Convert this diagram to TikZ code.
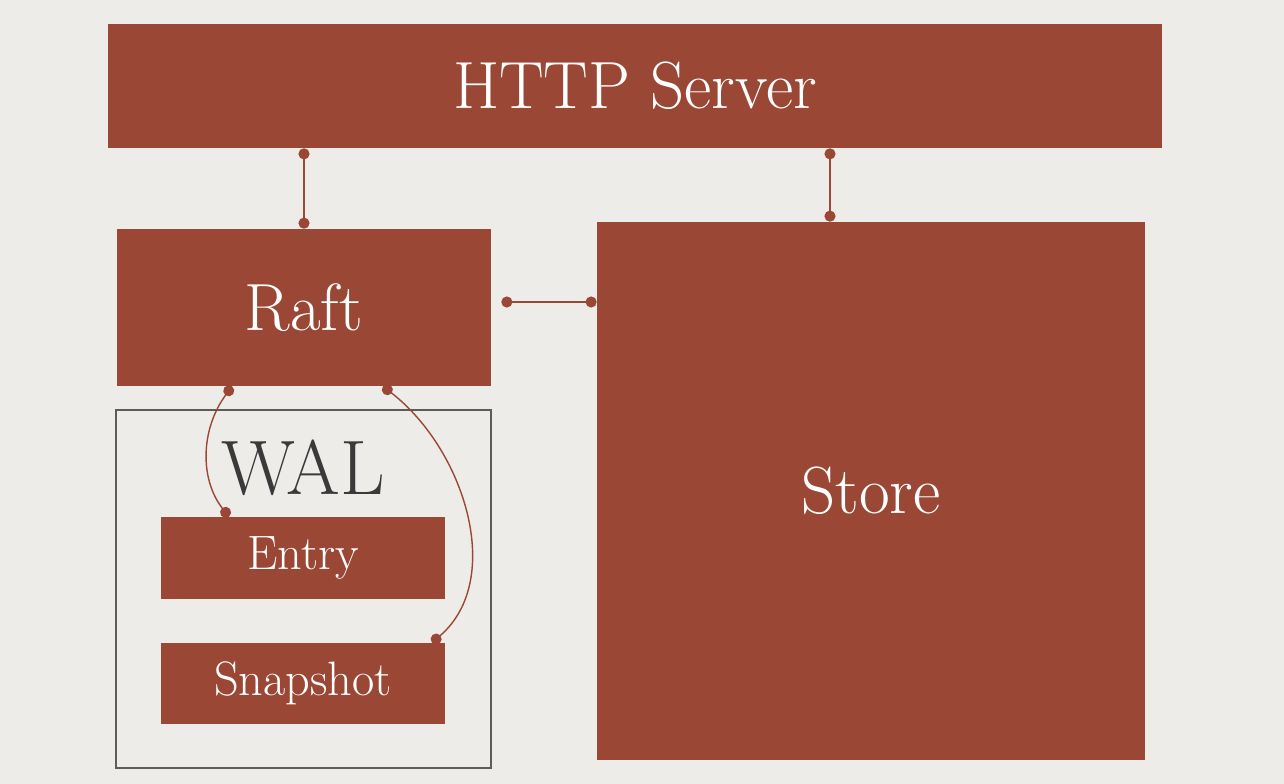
\documentclass[tikz,border=0pt]{standalone}
\usepackage{tikz}
\usetikzlibrary{arrows.meta,positioning,calc}
\definecolor{Brick}{HTML}{9A4835}
\definecolor{Paper}{HTML}{EDECE9}
\definecolor{Frame}{HTML}{5C5C5C}
\definecolor{Slate}{HTML}{3A3A3A}
\tikzset{
 block/.style={fill=Brick,draw=none,text=white,inner sep=0pt},
 bigfont/.style={font=\fontsize{38}{44}\selectfont},
 midfont/.style={font=\fontsize{27.5}{32}\selectfont},
 link/.style={{Circle[length=2.2mm]}-{Circle[length=2.2mm]},draw=Brick,line width=1.3pt},
 curvelink/.style={link,line width=0.8pt}
}
\begin{document}
\begin{tikzpicture}
\fill[Paper] (0,0) rectangle (25.68,-15.68);
\useasboundingbox (0,0) rectangle (25.68,-15.68);
% boxes
\node[block,bigfont,minimum width=21.08cm,minimum height=2.48cm] (http) at (12.70,-1.72) {HTTP Server};
\node[block,bigfont,minimum width=7.48cm,minimum height=3.14cm] (raft) at (6.08,-6.15) {Raft};
\node[block,bigfont,minimum width=10.96cm,minimum height=10.76cm] (store) at (17.42,-9.82) {Store};
\node[draw=Frame,line width=1.7pt,minimum width=7.5cm,minimum height=7.16cm] (wal) at (6.07,-11.78) {};
\node[text=Slate,font=\fontsize{44}{50}\selectfont,anchor=base] (wallabel) at (6.06,-9.9) {WAL};
\node[block,midfont,minimum width=5.68cm,minimum height=1.64cm] (entry) at (6.06,-11.16) {Entry};
\node[block,midfont,minimum width=5.68cm,minimum height=1.62cm] (snapshot) at (6.06,-13.67) {Snapshot};
% connectors
\coordinate (sx) at (16.6,0);
\draw[link] (http.south -| raft.north) -- (raft.north);
\draw[link] (http.south -| sx) -- (store.north -| sx);
\draw[link,shorten <=2mm] ([yshift=1.1mm]raft.east) -- ([yshift=1.1mm]raft.east -| store.west);
\draw[curvelink] (4.64,-7.82 |- raft.south) .. controls (4.0,-8.6) and (4.0,-9.6) .. (4.58,-10.24 |- entry.north);
\draw[curvelink] (7.66,-7.82 |- raft.south) .. controls (9.3,-9.0) and (10.1,-11.6) .. (8.64,-12.76 |- snapshot.north);
\end{tikzpicture}
\end{document}
